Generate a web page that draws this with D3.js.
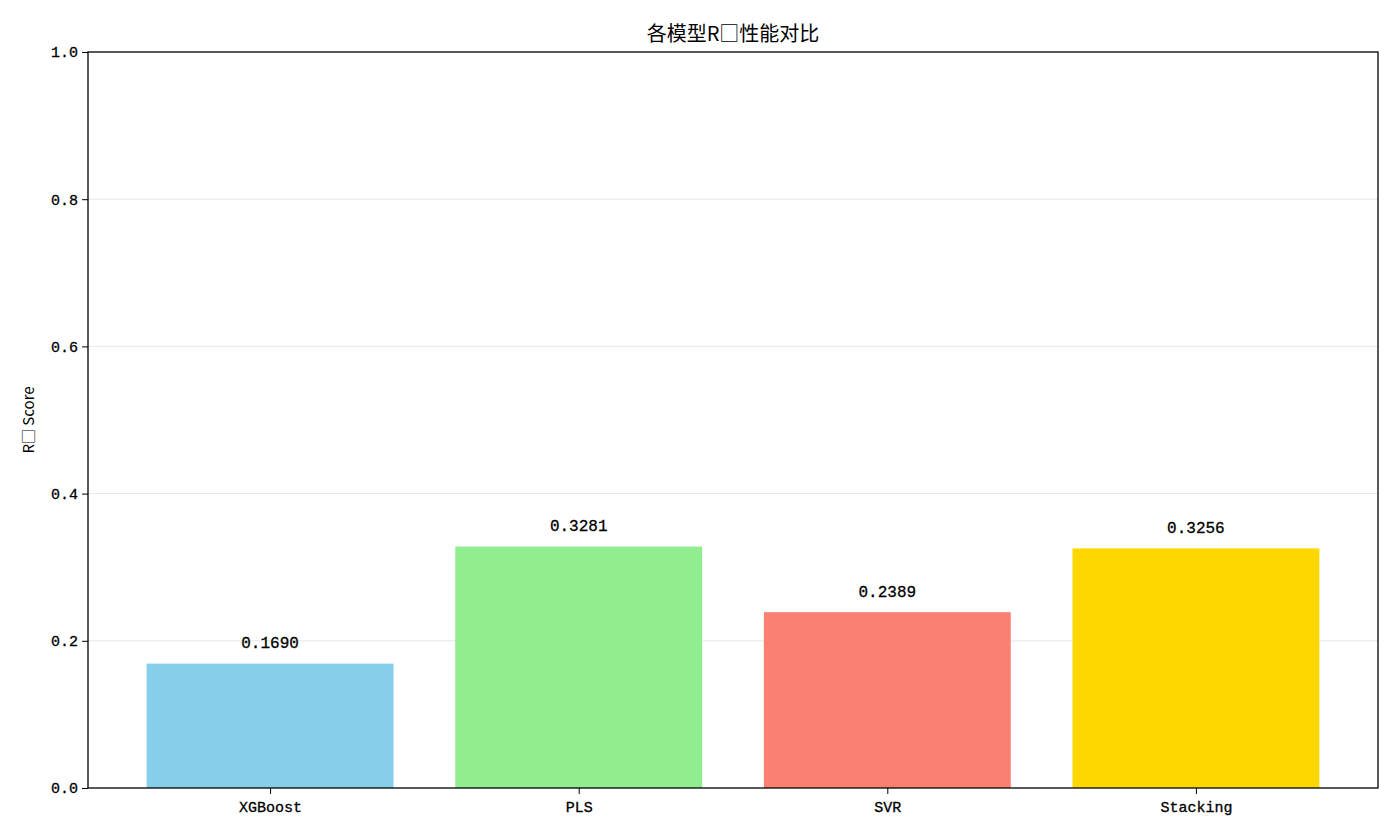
<!DOCTYPE html>
<html><head><meta charset="utf-8">
<script src="https://cdn.jsdelivr.net/npm/d3@7"></script>
<style>body{margin:0;background:#fff}</style>
</head><body>
<svg id="c" width="1400" height="840"></svg>
<script>
const categories = ["XGBoost", "PLS", "SVR", "Stacking"];
const r2Values = [0.1690, 0.3281, 0.2389, 0.3256];
const barColors = ["#87CEEB", "#90EE90", "#FA8072", "#FFD700"];
const yTicks = [0.0, 0.2, 0.4, 0.6, 0.8, 1.0];
const titleText = "各模型R\u25A1性能对比";
const yLabelText = "R\u25A1 Score";

const svg = d3.select("#c");
const L = 88, R = 1378, T = 52, B = 788;
const x = d3.scaleLinear().domain([-0.59, 3.59]).range([L, R]);
const y = d3.scaleLinear().domain([0, 1]).range([B, T]);
const mono = "'Liberation Mono', 'DejaVu Sans Mono', monospace";
const cjk = "'Noto Sans CJK SC', sans-serif";

// grid
svg.append("g").selectAll("line").data(yTicks.filter(d => d > 0 && d < 1)).join("line")
  .attr("x1", L).attr("x2", R).attr("y1", d => y(d)).attr("y2", d => y(d))
  .attr("stroke", "#b0b0b0").attr("stroke-opacity", 0.3).attr("stroke-width", 1);

// bars
svg.append("g").selectAll("rect").data(r2Values).join("rect")
  .attr("x", (d, i) => x(i - 0.4)).attr("width", x(0.8) - x(0))
  .attr("y", d => y(d)).attr("height", d => y(0) - y(d))
  .attr("fill", (d, i) => barColors[i]);

// value labels
svg.append("g").selectAll("text").data(r2Values).join("text")
  .attr("x", (d, i) => x(i)).attr("y", d => y(d + 0.01) - 8)
  .attr("text-anchor", "middle").attr("font-family", mono).attr("font-size", 16)
  .attr("stroke", "#000").attr("stroke-width", 0.3)
  .text(d => d.toFixed(4));

// axes
const xAxis = d3.axisBottom(x).tickValues(d3.range(categories.length)).tickFormat(i => categories[i]).tickSize(6).tickSizeOuter(0);
const gx = svg.append("g").attr("transform", `translate(0,${B})`).call(xAxis);
gx.select(".domain").remove();
gx.selectAll("text").attr("font-family", mono).attr("font-size", 15).attr("fill", "#000").attr("stroke", "#000").attr("stroke-width", 0.3).attr("dy", "1.0em");
gx.selectAll("line").attr("stroke", "#000");

const yAxis = d3.axisLeft(y).tickValues(yTicks).tickFormat(d3.format(".1f")).tickSize(6).tickSizeOuter(0);
const gy = svg.append("g").attr("transform", `translate(${L},0)`).call(yAxis);
gy.select(".domain").remove();
gy.selectAll("text").attr("font-family", mono).attr("font-size", 15).attr("fill", "#000").attr("stroke", "#000").attr("stroke-width", 0.3).attr("x", -10);
gy.selectAll("line").attr("stroke", "#000");

// frame
svg.append("rect").attr("x", L).attr("y", T).attr("width", R - L).attr("height", B - T)
  .attr("fill", "none").attr("stroke", "#000").attr("stroke-width", 1.3);

// title
svg.append("text").attr("x", (L + R) / 2).attr("y", T - 11).attr("text-anchor", "middle")
  .attr("font-family", cjk).attr("font-size", 20).text(titleText);

// y label
svg.append("text").attr("transform", `translate(34,${(T + B) / 2}) rotate(-90)`)
  .attr("text-anchor", "middle").attr("font-family", cjk).attr("font-size", 15).text(yLabelText);
</script>
</body></html>
